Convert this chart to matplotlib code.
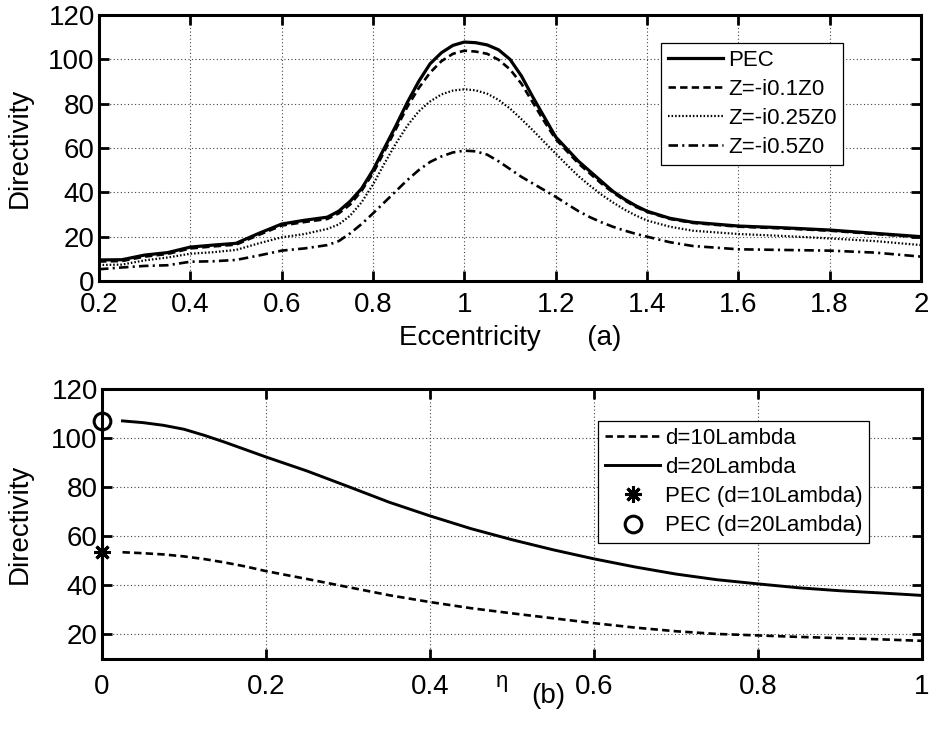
import matplotlib
matplotlib.use("Agg")
import matplotlib.pyplot as plt

plt.rcParams['font.family'] = ['Liberation Sans', 'DejaVu Sans']

# ---- panel (a) data ----
ecc = [0.2, 0.25, 0.3, 0.35, 0.4, 0.45, 0.5, 0.55, 0.6, 0.65, 0.7, 0.725, 0.75, 0.775,
       0.8, 0.825, 0.85, 0.875, 0.9, 0.925, 0.95, 0.975, 1.0, 1.025, 1.05, 1.075, 1.1,
       1.125, 1.15, 1.175, 1.2, 1.225, 1.25, 1.275, 1.3, 1.325, 1.35, 1.375, 1.4, 1.45,
       1.5, 1.6, 1.7, 1.8, 1.9, 2.0]
pec = [9.5, 9.6, 11.7, 12.8, 15.3, 16.2, 17.0, 21.5, 25.7, 27.4, 28.8, 31.5, 36.0, 41.7,
       50.0, 60.0, 70.0, 80.5, 90.0, 98.0, 103.0, 106.3, 107.8, 107.5, 106.5, 104.3, 100.0,
       92.5, 83.0, 74.0, 65.0, 59.5, 54.0, 49.5, 45.0, 40.5, 37.0, 34.0, 31.5, 28.3,
       26.5, 24.8, 24.0, 23.0, 21.5, 20.0]
z01 = [8.8, 9.0, 11.0, 12.2, 14.7, 15.6, 16.4, 20.8, 25.0, 26.6, 28.0, 30.5, 34.5, 40.7,
       48.6, 58.5, 68.5, 78.5, 87.0, 94.0, 99.2, 102.5, 103.9, 103.5, 102.5, 99.8, 95.5,
       89.0, 80.5, 72.0, 64.0, 58.5, 53.0, 48.5, 44.0, 40.0, 36.5, 33.5, 31.2, 28.0,
       26.2, 24.5, 23.7, 22.7, 21.2, 19.7]
z025 = [7.2, 7.4, 9.3, 10.6, 12.3, 13.0, 14.0, 17.0, 19.7, 21.2, 23.5, 25.5, 29.5, 35.5,
        43.5, 53.0, 62.0, 70.0, 76.5, 81.0, 84.2, 85.9, 86.5, 86.0, 84.5, 81.7, 77.8,
        73.0, 68.0, 62.7, 57.5, 52.3, 47.3, 43.0, 39.0, 35.5, 32.3, 29.6, 27.3, 24.5,
        22.7, 21.2, 20.3, 19.2, 18.0, 16.2]
z05 = [5.3, 6.1, 6.8, 7.1, 8.7, 8.9, 9.5, 11.5, 13.7, 14.7, 16.2, 18.0, 21.5, 25.7,
       30.5, 35.5, 40.5, 45.5, 50.0, 53.7, 56.2, 58.0, 58.8, 58.5, 57.0, 54.0, 50.5,
       47.0, 44.0, 41.0, 38.0, 34.7, 31.5, 28.8, 26.5, 24.5, 22.8, 21.3, 20.0, 17.5,
       15.8, 14.3, 14.0, 13.7, 12.8, 11.0]

# ---- panel (b) data ----
eta = [0.025, 0.05, 0.075, 0.1, 0.125, 0.15, 0.175, 0.2, 0.25, 0.3, 0.35, 0.4, 0.45, 0.5,
       0.55, 0.6, 0.65, 0.7, 0.75, 0.8, 0.85, 0.9, 0.95, 1.0]
d20 = [107.0, 106.3, 105.2, 103.6, 101.1, 98.3, 95.3, 92.3, 86.6, 80.3, 73.9, 68.3, 63.1, 58.6,
       54.5, 50.8, 47.5, 44.6, 42.3, 40.6, 39.0, 37.8, 36.9, 35.9]
d10 = [53.5, 53.1, 52.6, 51.8, 50.7, 49.3, 47.7, 45.8, 42.6, 39.3, 36.0, 33.2, 30.7, 28.6,
       26.6, 24.6, 22.8, 21.3, 20.2, 19.6, 19.0, 18.5, 18.0, 17.4]
pec_eta = [0.0]
pec_d10 = [53.4]
pec_d20 = [107.0]

W, H = 933, 738
fig = plt.figure(figsize=(W / 100, H / 100), dpi=100)

def rect(l, t, r, b):
    return [l / W, 1 - b / H, (r - l) / W, (b - t) / H]

ax1 = fig.add_axes(rect(99, 15, 921, 281))
ax2 = fig.add_axes(rect(102, 389, 922, 659))

tick_fs = 20
leg_fs = 16
lw = 1.9

def style(ax, xpad):
    ax.grid(True, linestyle=(0, (1, 2.2)), color='#444444', linewidth=0.8)
    ax.tick_params(direction='in', length=7, width=2, top=True, right=True,
                   labelsize=tick_fs)
    ax.tick_params(axis='x', pad=xpad)
    ax.tick_params(axis='y', pad=3)
    for s in ax.spines.values():
        s.set_linewidth(2.2)

ax1.plot(ecc, pec, color='black', lw=lw + 0.4, label='PEC')
ax1.plot(ecc, z01, color='black', lw=lw, linestyle=(0, (2.8, 1.6)), label='Z=-i0.1Z0')
ax1.plot(ecc, z025, color='black', lw=lw - 0.3, linestyle=(0, (0.7, 0.9)), label='Z=-i0.25Z0')
ax1.plot(ecc, z05, color='black', lw=lw, linestyle=(0, (3.6, 1.6, 0.8, 1.6)), label='Z=-i0.5Z0')
ax1.set_xlim(0.2, 2)
ax1.set_ylim(0, 120)
ax1.set_xticks([0.2, 0.4, 0.6, 0.8, 1, 1.2, 1.4, 1.6, 1.8, 2])
ax1.set_xticklabels(['0.2', '0.4', '0.6', '0.8', '1', '1.2', '1.4', '1.6', '1.8', '2'])
ax1.set_yticks([0, 20, 40, 60, 80, 100, 120])
style(ax1, 8)
ax1.set_ylabel('Directivity', fontsize=tick_fs)
ax1.yaxis.set_label_coords(-0.081, 0.5)
ax1.set_xlabel('Eccentricity      (a)', fontsize=tick_fs, labelpad=5)
leg1 = ax1.legend(loc='upper left', bbox_to_anchor=(0.684, 0.895), borderaxespad=0,
                  fontsize=leg_fs, fancybox=False, edgecolor='black', framealpha=1,
                  handlelength=2.5, handletextpad=0.2, labelspacing=0.37, borderpad=0.3)
leg1.get_frame().set_linewidth(0.9)

ax2.plot(eta, d10, color='black', lw=lw, linestyle=(0, (2.8, 1.6)), label='d=10Lambda')
ax2.plot(eta, d20, color='black', lw=lw + 0.2, label='d=20Lambda')
ax2.plot(pec_eta, pec_d10, linestyle='none', marker=(8, 2, 0), markersize=12,
         markeredgewidth=2.2, color='black', label='PEC (d=10Lambda)', clip_on=False)
ax2.plot(pec_eta, pec_d20, linestyle='none', marker='o', markersize=12, markerfacecolor='none',
         markeredgewidth=2.2, color='black', label='PEC (d=20Lambda)', clip_on=False)
ax2.set_xlim(0, 1)
ax2.set_ylim(10, 120)
ax2.set_xticks([0, 0.2, 0.4, 0.6, 0.8, 1])
ax2.set_xticklabels(['0', '0.2', '0.4', '0.6', '0.8', '1'])
ax2.set_yticks([20, 40, 60, 80, 100, 120])
style(ax2, 11)
ax2.set_ylabel('Directivity', fontsize=tick_fs)
ax2.yaxis.set_label_coords(-0.084, 0.5)
fig.text(502 / W, 1 - 682 / H, 'η', fontsize=16, ha='center', va='center')
fig.text(548 / W, 1 - 696 / H, '(b)', fontsize=tick_fs, ha='center', va='center')
leg2 = ax2.legend(loc='upper left', bbox_to_anchor=(0.605, 0.881), borderaxespad=0,
                  fontsize=leg_fs, fancybox=False, edgecolor='black', framealpha=1,
                  handlelength=2.5, handletextpad=0.2, labelspacing=0.37, borderpad=0.3)
leg2.get_frame().set_linewidth(0.9)

fig.savefig('out.png', dpi=100)
